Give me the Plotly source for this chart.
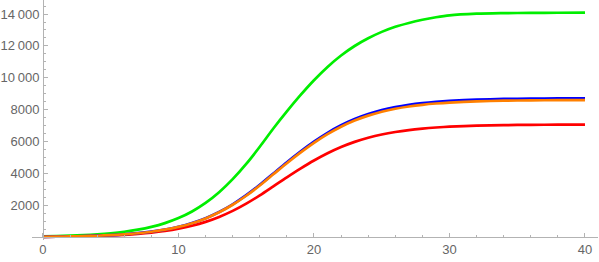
import plotly.graph_objects as go

# Data
x_vals = list(range(0, 31)) + [32, 34, 36, 38, 40]

green = [48, 67, 93, 129, 179, 247, 341, 471, 646, 883, 1199, 1614, 2149, 2820, 3639,
         4597, 5672, 6818, 7890, 8907, 9846, 10682, 11398, 11995, 12478, 12880, 13200,
         13440, 13640, 13800, 13920, 14020, 14055, 14070, 14080, 14085]
blue = [25, 35, 48, 67, 94, 130, 181, 251, 347, 478, 654, 888, 1193, 1581, 2061,
        2634, 3287, 3996, 4703, 5371, 5993, 6546, 7019, 7410, 7723, 7969, 8159,
        8303, 8412, 8493, 8553, 8630, 8672, 8694, 8706, 8713]
orange = [24, 34, 48, 66, 92, 129, 179, 248, 343, 472, 645, 876, 1177, 1561, 2035,
          2600, 3245, 3945, 4643, 5303, 5917, 6463, 6930, 7316, 7625, 7868, 8056,
          8198, 8306, 8386, 8445, 8521, 8562, 8584, 8596, 8603]
red = [21, 29, 41, 57, 79, 109, 151, 208, 286, 391, 532, 719, 962, 1271, 1651,
       2105, 2622, 3186, 3757, 4302, 4811, 5265, 5655, 5979, 6239, 6444, 6602,
       6722, 6812, 6880, 6931, 6995, 7030, 7049, 7059, 7064]

x_tickvals = [0, 10, 20, 30, 40]
x_ticktext = ["0", "10", "20", "30", "40"]
y_tickvals = [2000, 4000, 6000, 8000, 10000, 12000, 14000]
y_ticktext = ["2000", "4000", "6000", "8000", "10\u2009000", "12\u2009000", "14\u2009000"]

series = [
    ("green", green, "#00ee00"),
    ("red", red, "#ff0000"),
    ("blue", blue, "#0000ff"),
    ("orange", orange, "#ff8000"),
]

fig = go.Figure()
for name, ys, col in series:
    fig.add_trace(go.Scatter(
        x=x_vals, y=ys, mode="lines", name=name,
        line=dict(color=col, width=2.7, shape="spline", smoothing=0.8),
        showlegend=False, hoverinfo="skip",
    ))

axis_col = "#b3b3b3"
label_font = dict(family="Liberation Sans, Arial, sans-serif", size=13, color="#666666")

W, H = 599, 262
ml, mr, mt, mb = 32, 1, 0, 22
x_range = [-0.81, 40.96]
y_range = [-176, 14880]
# position of y axis (at x=0) and x axis (at y=0) as fractions of the plot area
ypos = (0 - x_range[0]) / (x_range[1] - x_range[0])
xpos = (0 - y_range[0]) / (y_range[1] - y_range[0])

fig.update_layout(
    width=W, height=H,
    margin=dict(l=ml, r=mr, t=mt, b=mb, autoexpand=False),
    plot_bgcolor="white", paper_bgcolor="white",
    xaxis=dict(
        range=x_range, showgrid=False, zeroline=False, automargin=False,
        showline=True, linecolor=axis_col, linewidth=1,
        anchor="free", position=xpos,
        tickmode="array", tickvals=x_tickvals, ticktext=x_ticktext,
        ticks="inside", ticklen=4, tickcolor=axis_col, tickwidth=1,
        tickfont=label_font, ticklabelstandoff=0,
        minor=dict(tickmode="linear", tick0=0, dtick=2, ticks="inside",
                   ticklen=2, tickcolor=axis_col, tickwidth=1, showgrid=False),
    ),
    yaxis=dict(
        range=y_range, showgrid=False, zeroline=False, automargin=False,
        showline=True, linecolor=axis_col, linewidth=1,
        anchor="free", position=ypos,
        tickmode="array", tickvals=y_tickvals, ticktext=y_ticktext,
        ticks="inside", ticklen=4, tickcolor=axis_col, tickwidth=1,
        tickfont=label_font, ticklabelstandoff=1,
        minor=dict(tickmode="linear", tick0=0, dtick=500, ticks="inside",
                   ticklen=2, tickcolor=axis_col, tickwidth=1, showgrid=False),
    ),
)

fig.write_html(
    "out.html",
    config={"displayModeBar": False},
    post_script="document.body.style.margin='0';document.body.style.padding='0';",
)
